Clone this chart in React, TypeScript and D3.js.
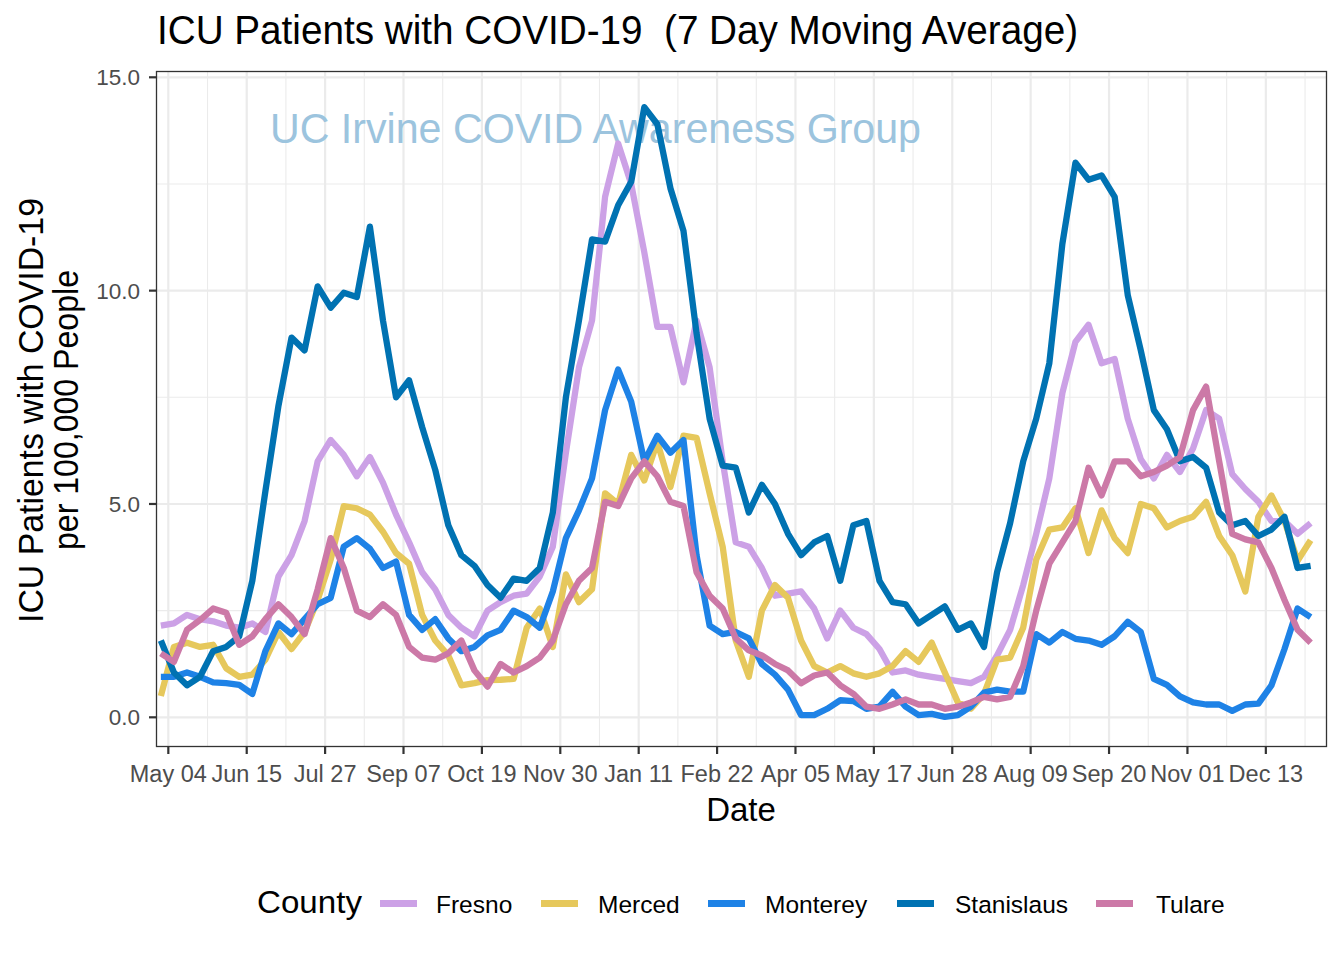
import React from "react";
import * as d3 from "d3";

// ---------- DATA ----------
const counties = ["Fresno", "Merced", "Monterey", "Stanislaus", "Tulare"];
const countyColors = ["#CCA1E6", "#E6C85C", "#1E82E6", "#0072B2", "#CC79A7"];

// weekly sample dates (7-day moving average values)
const weekDates: Date[] = d3.timeDay.range(new Date(2020, 3, 30), new Date(2022, 0, 8), 7);

const fresno = [
  2.15, 2.2, 2.4, 2.3, 2.25, 2.15, 2.1, 2.2, 2.0, 3.3,
  3.8, 4.6, 6.0, 6.5, 6.15, 5.65, 6.1, 5.5, 4.75, 4.1,
  3.4, 3.0, 2.4, 2.1, 1.9, 2.5, 2.7, 2.85, 2.9, 3.3,
  4.0, 6.2, 8.2, 9.3, 12.2, 13.45, 12.5, 10.9, 9.15, 9.15,
  7.85, 9.3, 8.2, 6.0, 4.1, 4.0, 3.5, 2.85, 2.9, 2.95,
  2.55, 1.85, 2.5, 2.1, 1.95, 1.6, 1.05, 1.1, 1.0, 0.95,
  0.9, 0.85, 0.8, 0.95, 1.45, 2.05, 3.1, 4.3, 5.6, 7.6,
  8.8, 9.2, 8.3, 8.4, 7.0, 6.05, 5.6, 6.15, 5.75, 6.3,
  7.2, 7.0, 5.7, 5.35, 5.05, 4.6, 4.6, 4.3, 4.55,
];
const merced = [
  0.5, 1.65, 1.75, 1.65, 1.7, 1.15, 0.95, 1.0, 1.35, 2.0,
  1.6, 2.0, 2.75, 3.7, 4.95, 4.9, 4.75, 4.35, 3.85, 3.6,
  2.4, 1.8, 1.45, 0.75, 0.8, 0.87, 0.88, 0.9, 2.1, 2.55,
  1.65, 3.35, 2.7, 3.0, 5.25, 5.0, 6.15, 5.55, 6.45, 5.4,
  6.6, 6.55, 5.25, 4.0, 1.8, 0.95, 2.5, 3.1, 2.8, 1.8,
  1.2, 1.05, 1.2, 1.03, 0.95, 1.03, 1.2, 1.55, 1.3, 1.75,
  1.05, 0.35, 0.2, 0.55, 1.35, 1.4, 2.1, 3.7, 4.4, 4.45,
  4.9, 3.85, 4.85, 4.2, 3.85, 5.0, 4.9, 4.45, 4.6, 4.7,
  5.05, 4.25, 3.8, 2.95, 4.7, 5.2, 4.6, 3.67, 4.15,
];
const monterey = [
  0.95, 0.95, 1.05, 0.95, 0.82, 0.8, 0.76, 0.55, 1.55, 2.2,
  1.95, 2.3, 2.65, 2.8, 4.0, 4.2, 3.95, 3.5, 3.65, 2.4,
  2.05, 2.3, 1.85, 1.55, 1.65, 1.92, 2.05, 2.5, 2.35, 2.1,
  2.95, 4.2, 4.85, 5.6, 7.2, 8.15, 7.4, 6.0, 6.6, 6.2,
  6.5, 3.8, 2.15, 1.95, 2.0, 1.85, 1.25, 1.0, 0.65, 0.05,
  0.05, 0.2, 0.4, 0.38, 0.2, 0.25, 0.6, 0.25, 0.05, 0.08,
  0.01, 0.05, 0.25, 0.58, 0.65, 0.6, 0.6, 1.95, 1.75, 2.0,
  1.84, 1.8, 1.7, 1.9, 2.24, 2.0, 0.9, 0.76, 0.49, 0.35,
  0.3, 0.3, 0.15, 0.3, 0.32, 0.75, 1.6, 2.55, 2.35,
];
const stanislaus = [
  1.8, 1.05, 0.75, 0.95, 1.55, 1.65, 1.9, 3.2, 5.3, 7.3,
  8.9, 8.6, 10.1, 9.6, 9.95, 9.85, 11.5, 9.3, 7.5, 7.9,
  6.8, 5.8, 4.5, 3.8, 3.55, 3.1, 2.8, 3.25, 3.2, 3.5,
  4.8, 7.5, 9.3, 11.2, 11.15, 12.0, 12.55, 14.3, 13.9, 12.4,
  11.4, 9.0, 7.0, 5.9, 5.85, 4.8, 5.45, 5.0, 4.3, 3.8,
  4.1, 4.25, 3.2, 4.5, 4.6, 3.2, 2.7, 2.65, 2.2, 2.4,
  2.6, 2.05, 2.2, 1.65, 3.4, 4.55, 6.0, 7.0, 8.3, 11.1,
  13.0, 12.6, 12.7, 12.2, 9.9, 8.6, 7.2, 6.75, 6.0, 6.1,
  5.85, 4.8, 4.5, 4.6, 4.25, 4.4, 4.7, 3.5, 3.55,
];
const tulare = [
  1.5, 1.3, 2.05, 2.28, 2.55, 2.45, 1.7, 1.9, 2.3, 2.65,
  2.35, 1.95, 3.0, 4.2, 3.5, 2.5, 2.35, 2.65, 2.4, 1.65,
  1.4, 1.35, 1.5, 1.8, 1.1, 0.72, 1.25, 1.05, 1.2, 1.4,
  1.8, 2.65, 3.2, 3.5, 5.05, 4.95, 5.6, 6.0, 5.65, 5.05,
  4.95, 3.4, 2.85, 2.55, 1.85, 1.57, 1.45, 1.25, 1.1, 0.8,
  0.98, 1.05, 0.75, 0.55, 0.25, 0.2, 0.3, 0.42, 0.3, 0.3,
  0.2, 0.25, 0.35, 0.48, 0.42, 0.48, 1.2, 2.5, 3.6, 4.1,
  4.6, 5.85, 5.2, 6.0, 6.0, 5.65, 5.75, 5.9, 6.1, 7.2,
  7.75, 6.0, 4.3, 4.17, 4.1, 3.5, 2.75, 2.05, 1.75,
];
const seriesValues = [fresno, merced, monterey, stanislaus, tulare];

const xTickDates: Date[] = d3.timeDay.range(new Date(2020, 4, 4), new Date(2021, 11, 14), 42);
const xTickLabels = ["May 04", "Jun 15", "Jul 27", "Sep 07", "Oct 19", "Nov 30", "Jan 11", "Feb 22",
  "Apr 05", "May 17", "Jun 28", "Aug 09", "Sep 20", "Nov 01", "Dec 13"];
const yTicks = [0, 5, 10, 15];
const yTickLabels = ["0.0", "5.0", "10.0", "15.0"];
const yMinor = [2.5, 7.5, 12.5];

// ---------- LAYOUT ----------
const W = 1344, H = 960;
const P = { left: 156.5, right: 1326.5, top: 71.5, bottom: 746.5 };
const FONT = "'Liberation Sans', Arial, Helvetica, sans-serif";
const legendKeyX = [380, 541, 708, 897, 1096];
const legendLabelX = [436, 598, 765, 955, 1156];

export default function App() {
  const anchor = new Date(2020, 4, 4);
  const x = d3.scaleTime()
    .domain([d3.timeHour.offset(anchor, -6.3 * 24), d3.timeHour.offset(anchor, 620.5 * 24)])
    .range([P.left, P.right]);
  const y = d3.scaleLinear().domain([-0.684, 15.136]).range([P.bottom, P.top]);

  const xMinor: Date[] = [];
  for (let i = 0; i < xTickDates.length; i++) {
    const m = d3.timeDay.offset(xTickDates[i], 21);
    if (x(m) < P.right) xMinor.push(m);
  }

  const line = d3.line<number>()
    .x((_, i) => x(weekDates[i]))
    .y((v) => y(v))
    .curve(d3.curveLinear);

  return (
    <svg width={W} height={H} style={{ position: "fixed", left: 0, top: 0, display: "block", background: "#fff" }}
      fontFamily={FONT}>
      <rect x={0} y={0} width={W} height={H} fill="#fff" />
      {/* title */}
      <text x={157} y={44} fontSize={40} fill="#000" textLength={921} lengthAdjust="spacingAndGlyphs"
        style={{ whiteSpace: "pre" }}>
        {"ICU Patients with COVID-19  (7 Day Moving Average)"}
      </text>

      {/* panel */}
      <rect x={P.left} y={P.top} width={P.right - P.left} height={P.bottom - P.top} fill="#fff" />
      {yMinor.map((v) => (
        <line key={"ym" + v} x1={P.left} x2={P.right} y1={y(v)} y2={y(v)} stroke="#EBEBEB" strokeWidth={1.1} />
      ))}
      {xMinor.map((d, i) => (
        <line key={"xm" + i} x1={x(d)} x2={x(d)} y1={P.top} y2={P.bottom} stroke="#EBEBEB" strokeWidth={1.1} />
      ))}
      {yTicks.map((v) => (
        <line key={"yM" + v} x1={P.left} x2={P.right} y1={y(v)} y2={y(v)} stroke="#EBEBEB" strokeWidth={2.2} />
      ))}
      {xTickDates.map((d, i) => (
        <line key={"xM" + i} x1={x(d)} x2={x(d)} y1={P.top} y2={P.bottom} stroke="#EBEBEB" strokeWidth={2.2} />
      ))}

      {/* watermark */}
      <text x={270} y={143} fontSize={43} fill="#9CC4DE" textLength={651} lengthAdjust="spacingAndGlyphs">
        UC Irvine COVID Awareness Group
      </text>

      {/* lines */}
      {seriesValues.map((vals, i) => (
        <path key={counties[i]} d={line(vals) || ""} fill="none" stroke={countyColors[i]} strokeWidth={6.3}
          strokeLinejoin="round" strokeLinecap="butt" />
      ))}

      <rect x={P.left} y={P.top} width={P.right - P.left} height={P.bottom - P.top} fill="none"
        stroke="#333333" strokeWidth={1.3} />

      {/* y axis */}
      {yTicks.map((v, i) => (
        <g key={"yt" + v}>
          <line x1={P.left - 7.5} x2={P.left} y1={y(v)} y2={y(v)} stroke="#333333" strokeWidth={2.2} />
          <text x={140} y={y(v)} dy="0.36em" fontSize={22.5} fill="#4D4D4D" textAnchor="end">{yTickLabels[i]}</text>
        </g>
      ))}
      {/* x axis */}
      {xTickDates.map((d, i) => (
        <g key={"xt" + i}>
          <line x1={x(d)} x2={x(d)} y1={P.bottom} y2={P.bottom + 7.5} stroke="#333333" strokeWidth={2.2} />
          <text x={x(d)} y={782} fontSize={23.5} fill="#4D4D4D" textAnchor="middle">{xTickLabels[i]}</text>
        </g>
      ))}

      {/* axis titles */}
      <text x={741} y={821} fontSize={33} fill="#000" textAnchor="middle">Date</text>
      <g transform="translate(43,410.5) rotate(-90)">
        <text x={0} y={0} fontSize={35} fill="#000" textAnchor="middle" textLength={425}
          lengthAdjust="spacingAndGlyphs">ICU Patients with COVID-19</text>
      </g>
      <g transform="translate(78,410) rotate(-90)">
        <text x={0} y={0} fontSize={35} fill="#000" textAnchor="middle" textLength={280}
          lengthAdjust="spacingAndGlyphs">per 100,000 People</text>
      </g>

      {/* legend */}
      <text x={257} y={913} fontSize={32} fill="#000" textLength={105} lengthAdjust="spacingAndGlyphs">County</text>
      {counties.map((c, i) => (
        <g key={"lg" + c}>
          <line x1={legendKeyX[i]} x2={legendKeyX[i] + 37} y1={903.5} y2={903.5} stroke={countyColors[i]} strokeWidth={7} />
          <text x={legendLabelX[i]} y={912.5} fontSize={24.5} fill="#000">{c}</text>
        </g>
      ))}
    </svg>
  );
}
